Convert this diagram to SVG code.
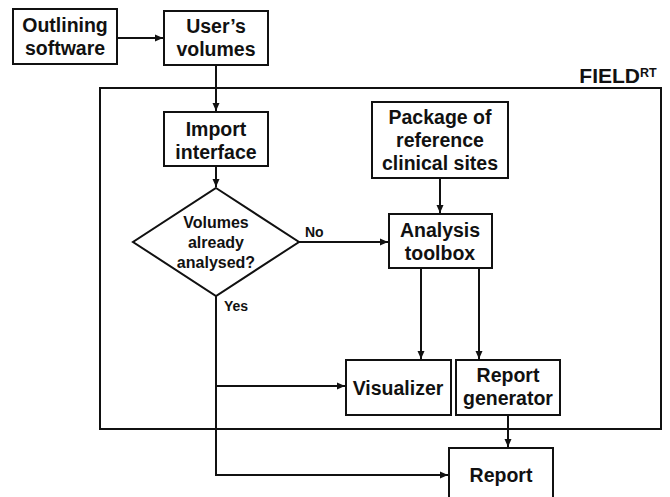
<svg xmlns="http://www.w3.org/2000/svg" width="670" height="497" viewBox="0 0 670 497">
<defs>
<marker id="ah" markerWidth="10" markerHeight="10" refX="9" refY="5" orient="auto" markerUnits="userSpaceOnUse">
<path d="M1,1.5 L9,5 L1,8.5 Z" fill="#111"/>
</marker>
<style>
.box{fill:#fff;stroke:#111;stroke-width:2}
.ln{fill:none;stroke:#111;stroke-width:2}
.t{font-family:"Liberation Sans",Arial,sans-serif;font-weight:bold;font-size:19.5px;fill:#111;text-anchor:middle}
.s{font-size:16px}
.l{font-family:"Liberation Sans",Arial,sans-serif;font-weight:bold;font-size:14px;fill:#111}
</style>
</defs>
<rect width="670" height="497" fill="#fff"/>
<g id="frame">
<rect x="100" y="88" width="561" height="341" fill="none" stroke="#111" stroke-width="2"/>
<text x="640" y="83" font-family="'Liberation Sans',Arial,sans-serif" font-weight="bold" font-size="21" fill="#111" text-anchor="end">FIELD</text>
<text x="640" y="77" font-family="'Liberation Sans',Arial,sans-serif" font-weight="bold" font-size="12.5" fill="#111">RT</text>
</g>
<g id="connectors">
<line class="ln" x1="117" y1="38" x2="163" y2="38" marker-end="url(#ah)"/>
<line class="ln" x1="216" y1="65" x2="216" y2="111" marker-end="url(#ah)"/>
<line class="ln" x1="216" y1="166" x2="216" y2="187" marker-end="url(#ah)"/>
<line class="ln" x1="299" y1="242" x2="388" y2="242" marker-end="url(#ah)"/>
<line class="ln" x1="440" y1="178" x2="440" y2="213" marker-end="url(#ah)"/>
<line class="ln" x1="421" y1="268" x2="421" y2="359" marker-end="url(#ah)"/>
<line class="ln" x1="479" y1="268" x2="479" y2="359" marker-end="url(#ah)"/>
<polyline class="ln" points="216,296 216,475 448,475" marker-end="url(#ah)"/>
<line class="ln" x1="216" y1="386" x2="345" y2="386" marker-end="url(#ah)"/>
<line class="ln" x1="508" y1="415" x2="508" y2="447" marker-end="url(#ah)"/>
<text class="l" x="305" y="237">No</text>
<text class="l" x="224" y="311">Yes</text>
</g>
<g id="outlining">
<rect class="box" x="13" y="9" width="104" height="55"/>
<text class="t" x="65" y="32">Outlining</text>
<text class="t" x="65" y="55">software</text>
</g>
<g id="users-volumes">
<rect class="box" x="164" y="11" width="104" height="54"/>
<text class="t" x="216" y="33">User’s</text>
<text class="t" x="216" y="56">volumes</text>
</g>
<g id="import">
<rect class="box" x="164" y="112" width="104" height="54"/>
<text class="t" x="216" y="136">Import</text>
<text class="t" x="216" y="159">interface</text>
</g>
<g id="decision">
<polygon class="box" points="216,188 299,242 216,296 133,242"/>
<text class="t s" x="216" y="228">Volumes</text>
<text class="t s" x="216" y="248">already</text>
<text class="t s" x="216" y="268">analysed?</text>
</g>
<g id="package">
<rect class="box" x="372" y="102" width="136" height="76"/>
<text class="t" x="440" y="124">Package of</text>
<text class="t" x="440" y="147">reference</text>
<text class="t" x="440" y="170">clinical sites</text>
</g>
<g id="analysis">
<rect class="box" x="389" y="214" width="103" height="54"/>
<text class="t" x="440" y="237">Analysis</text>
<text class="t" x="440" y="260">toolbox</text>
</g>
<g id="visualizer">
<rect class="box" x="346" y="360" width="105" height="55"/>
<text class="t" x="398" y="395">Visualizer</text>
</g>
<g id="report-generator">
<rect class="box" x="456" y="360" width="104" height="55"/>
<text class="t" x="508" y="382">Report</text>
<text class="t" x="508" y="405">generator</text>
</g>
<g id="report">
<rect class="box" x="449" y="448" width="104" height="60"/>
<text class="t" x="501" y="482">Report</text>
</g>
</svg>
